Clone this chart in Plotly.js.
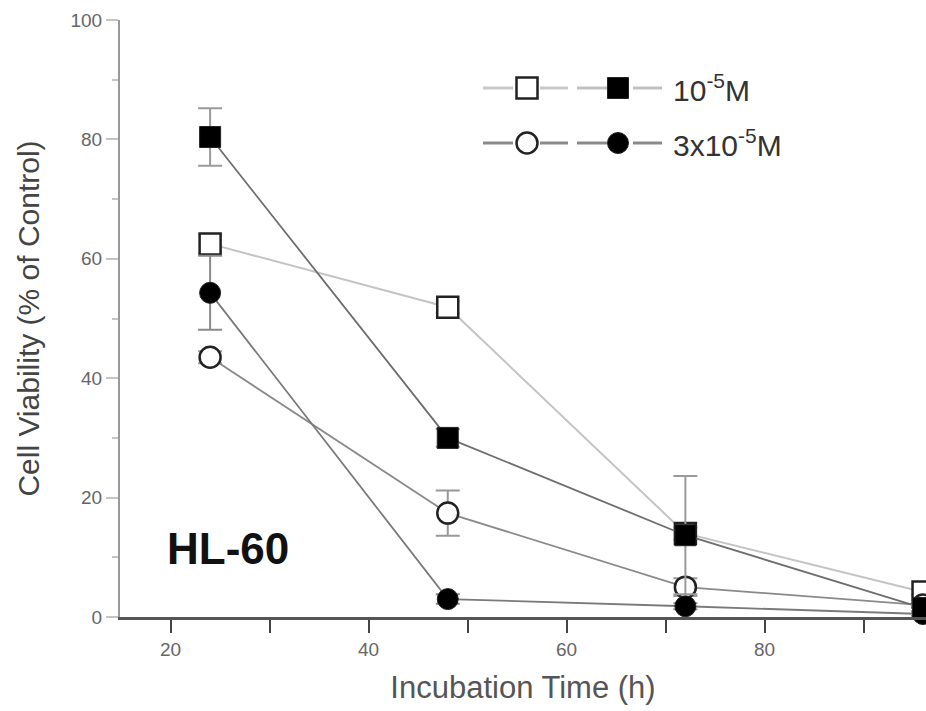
<!DOCTYPE html>
<html>
<head>
<meta charset="utf-8">
<script src="https://cdn.plot.ly/plotly-3.0.1.min.js"></script>
<style>
  html, body { margin: 0; padding: 0; background: #fff; }
  #chart { width: 926px; height: 711px; }
</style>
</head>
<body>
<div id="chart"></div>
<script>
// ---- data ----
var hours = [24, 48, 72, 96];
var openSquare   = [62.5, 51.9, 14.0, 4.2];   // 10^-5 M (open)
var filledSquare = [80.4, 30.0, 13.7, 1.5];   // 10^-5 M (filled)
var openCircle   = [43.5, 17.4, 5.0, 2.0];    // 3x10^-5 M (open)
var filledCircle = [54.3, 3.0, 1.8, 0.5];     // 3x10^-5 M (filled)
var openSquareErr   = [1.5, 1.0, 1.0, 0.5];
var filledSquareErr = [4.8, 1.5, 9.9, 0.5];
var openCircleErr   = [1.0, 3.8, 1.5, 0.5];
var filledCircleErr = [6.2, 0.8, 0.5, 0.3];
var xTickVals = [20, 40, 60, 80];
var xTickLabels = ['20', '40', '60', '80'];
var yTickVals = [0, 20, 40, 60, 80, 100];
var yTickLabels = ['0', '20', '40', '60', '80', '100'];
var legendLabels = ['10<sup>-5</sup>M', '3x10<sup>-5</sup>M'];
var panelLabel = 'HL-60';

// ---- styling / layout ----
var FONT = 'Liberation Sans, Arial, Helvetica, sans-serif';
var L = 120, T = 20, W = 926, H = 711, B = 94;

function markerStyle(shape, open) {
  return {symbol: shape, size: 21, color: open ? '#ffffff' : '#000000',
          line: {color: '#222', width: open ? 2.5 : 1}};
}

function series(y, err, shape, open, lineColor, lineWidth, errColor) {
  return {
    x: hours, y: y, type: 'scatter', mode: 'lines+markers',
    line: {color: lineColor, width: lineWidth},
    marker: markerStyle(shape, open),
    error_y: {type: 'data', array: err, visible: true, color: errColor, thickness: 2, width: 12},
    showlegend: false, cliponaxis: false, hoverinfo: 'x+y'
  };
}

var traces = [
  series(openSquare, openSquareErr, 'square', true, '#c4c4c4', 2, '#bbbbbb'),
  series(openCircle, openCircleErr, 'circle', true, '#8a8a8a', 1.8, '#999999'),
  series(filledCircle, filledCircleErr, 'circle', false, '#7a7a7a', 1.8, '#8a8a8a'),
  series(filledSquare, filledSquareErr, 'square', false, '#6e6e6e', 1.8, '#9a9a9a')
];

// legend glyphs on an overlay axis expressed in pixel space
var legRows = [88, 143];
var legSegs = [[483, 513], [540, 568], [577, 607], [633, 662]];
var legMarkX = [527, 618];
var legShapes = ['square', 'circle'];
var legLineColors = [['#c8c8c8', '#c0c0c0'], ['#8a8a8a', '#8a8a8a']];
legRows.forEach(function (ry, r) {
  legSegs.forEach(function (s, i) {
    traces.push({x: s, y: [ry, ry], xaxis: 'x2', yaxis: 'y2', type: 'scatter', mode: 'lines',
      line: {color: legLineColors[r][i < 2 ? 0 : 1], width: 3}, showlegend: false, hoverinfo: 'skip'});
  });
  legMarkX.forEach(function (mx, i) {
    traces.push({x: [mx], y: [ry], xaxis: 'x2', yaxis: 'y2', type: 'scatter', mode: 'markers',
      marker: markerStyle(legShapes[r], i === 0), showlegend: false, hoverinfo: 'skip'});
  });
});

var layout = {
  width: W, height: H,
  margin: {l: L, r: 0, t: T, b: B},
  paper_bgcolor: '#fff', plot_bgcolor: '#fff',
  font: {family: FONT, color: '#333'},
  showlegend: false,
  xaxis: {
    range: [14.9, 96.3], showgrid: false, zeroline: false,
    showline: true, linecolor: '#555', linewidth: 3,
    tickmode: 'array', tickvals: xTickVals, ticktext: xTickLabels,
    ticks: 'outside', ticklen: 13, tickwidth: 2, tickcolor: '#444',
    minor: {tickvals: [30, 50, 70, 90], ticks: 'outside', ticklen: 13, tickwidth: 2, tickcolor: '#444'},
    tickfont: {family: FONT, size: 19, color: '#666'},
    title: {text: 'Incubation Time (h)', font: {family: FONT, size: 31, color: '#555'}, standoff: 18}
  },
  yaxis: {
    range: [0, 100], showgrid: false, zeroline: false,
    showline: true, linecolor: '#999', linewidth: 2,
    tickmode: 'array', tickvals: yTickVals, ticktext: yTickLabels,
    ticks: 'outside', ticklen: 12, tickwidth: 2, tickcolor: '#c4c4c4',
    minor: {tickvals: [10, 30, 50, 70, 90], ticks: 'outside', ticklen: 6, tickwidth: 2, tickcolor: '#c4c4c4'},
    tickfont: {family: FONT, size: 19, color: '#666'},
    title: {text: 'Cell Viability (% of Control)', font: {family: FONT, size: 30, color: '#444'}, standoff: 22}
  },
  xaxis2: {overlaying: 'x', range: [L, W], visible: false, fixedrange: true},
  yaxis2: {overlaying: 'y', range: [H - B, T], visible: false, fixedrange: true},
  annotations: [
    {text: '<b>' + panelLabel + '</b>', xref: 'paper', yref: 'paper', x: (165 - L) / (W - L), y: (H - B - 548) / (H - B - T),
     xanchor: 'left', yanchor: 'middle', showarrow: false, font: {family: FONT, size: 44, color: '#111'}},
    {text: legendLabels[0], xref: 'x2', yref: 'y2', x: 671, y: legRows[0], xanchor: 'left', yanchor: 'middle',
     showarrow: false, font: {family: FONT, size: 30, color: '#333'}},
    {text: legendLabels[1], xref: 'x2', yref: 'y2', x: 671, y: legRows[1], xanchor: 'left', yanchor: 'middle',
     showarrow: false, font: {family: FONT, size: 30, color: '#333'}}
  ]
};

Plotly.newPlot('chart', traces, layout, {displayModeBar: false, staticPlot: true});
</script>
</body>
</html>
